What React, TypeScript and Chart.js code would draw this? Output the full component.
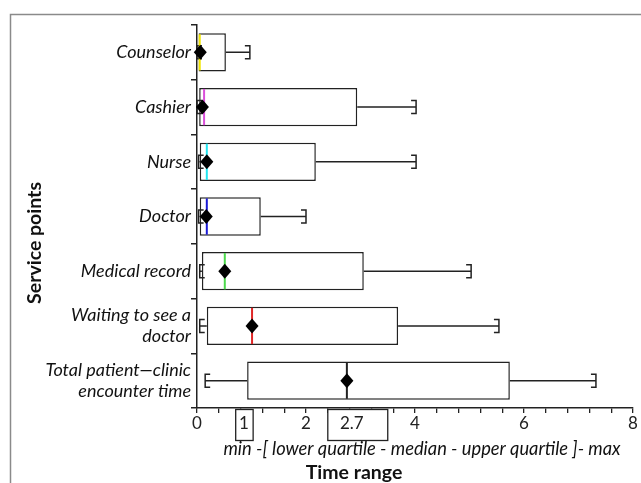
import { useEffect, useRef } from "react";
import { Chart, registerables } from "chart.js";

Chart.register(...registerables);

const categories: (string | string[])[] = [
  "Counselor",
  "Cashier",
  "Nurse",
  "Doctor",
  "Medical record",
  ["Waiting to see a", "doctor"],
  ["Total patient\u2014clinic", "encounter time"],
];
const minValues = [0.0, 0.0, 0.03, 0.03, 0.05, 0.05, 0.15];
const q1Values = [0.03, 0.04, 0.05, 0.05, 0.09, 0.18, 0.92];
const medianValues = [0.05, 0.13, 0.18, 0.18, 0.51, 1.01, 2.75];
const q3Values = [0.53, 2.94, 2.18, 1.17, 3.06, 3.69, 5.74];
const maxValues = [0.97, 4.02, 4.02, 2.0, 5.03, 5.54, 7.32];
const markerValues = [0.06, 0.1, 0.18, 0.17, 0.51, 1.01, 2.75];
const medianColors = ["#f2e600", "#d94fd9", "#22e5f0", "#1a1ad6", "#4cd94c", "#e02626", "#222222"];

const xMin = 0;
const xMax = 8;
const xStep = 0.4;
const xLabelEvery = 2;

const noteLabels = ["1", "2.7"];
const noteTextAt = [0.86, 2.84];
const noteStart = [0.71, 2.4];
const noteEnd = [1.03, 3.5];

const FONT = "Lato, 'Open Sans', sans-serif";

const boxPlugin = {
  id: "boxExtras",
  beforeDraw(chart: any) {
    const ctx = chart.ctx;
    ctx.save();
    ctx.strokeStyle = "#8a8a8a";
    ctx.lineWidth = 1.5;
    ctx.beginPath();
    ctx.moveTo(10.5, chart.height);
    ctx.lineTo(10.5, 14.5);
    ctx.lineTo(chart.width, 14.5);
    ctx.stroke();
    ctx.restore();
  },
  afterDatasetsDraw(chart: any) {
    const ctx = chart.ctx;
    const xs = chart.scales.x;
    const meta = chart.getDatasetMeta(0);
    ctx.save();
    for (let i = 0; i < categories.length; i++) {
      const el = meta.data[i];
      const { y: cy, height: h } = el.getProps(["y", "height"], true);
      const half = h / 2;
      const cap = 6.5;
      const serif = 5;
      const pMin = xs.getPixelForValue(minValues[i]);
      const pQ1 = xs.getPixelForValue(q1Values[i]);
      const pQ3 = xs.getPixelForValue(q3Values[i]);
      const pMax = xs.getPixelForValue(maxValues[i]);
      ctx.strokeStyle = "#222";
      ctx.lineWidth = 1.5;
      ctx.beginPath();
      ctx.moveTo(pQ3, cy);
      ctx.lineTo(pMax, cy);
      ctx.moveTo(pMax - serif, cy - cap);
      ctx.lineTo(pMax, cy - cap);
      ctx.lineTo(pMax, cy + cap);
      ctx.lineTo(pMax - serif, cy + cap);
      if (pQ1 - pMin > 1) {
        ctx.moveTo(pMin, cy);
        ctx.lineTo(pQ1, cy);
        ctx.moveTo(pMin + serif, cy - cap);
        ctx.lineTo(pMin, cy - cap);
        ctx.lineTo(pMin, cy + cap);
        ctx.lineTo(pMin + serif, cy + cap);
      }
      ctx.stroke();
      const pMed = xs.getPixelForValue(medianValues[i]);
      ctx.strokeStyle = medianColors[i];
      ctx.lineWidth = 2;
      ctx.beginPath();
      ctx.moveTo(pMed, cy - half + 1);
      ctx.lineTo(pMed, cy + half - 1);
      ctx.stroke();
      const pm = xs.getPixelForValue(markerValues[i]);
      ctx.fillStyle = "#000";
      ctx.beginPath();
      ctx.moveTo(pm, cy - 7.5);
      ctx.lineTo(pm + 6.5, cy);
      ctx.lineTo(pm, cy + 7.5);
      ctx.lineTo(pm - 6.5, cy);
      ctx.closePath();
      ctx.fill();
    }
    ctx.restore();
  },
  afterDraw(chart: any) {
    const ctx = chart.ctx;
    const xs = chart.scales.x;
    const area = chart.chartArea;
    ctx.save();
    ctx.font = `17px ${FONT}`;
    ctx.textAlign = "center";
    ctx.textBaseline = "middle";
    for (let i = 0; i < noteLabels.length; i++) {
      const a = xs.getPixelForValue(noteStart[i]);
      const b = xs.getPixelForValue(noteEnd[i]);
      ctx.fillStyle = "#fff";
      ctx.fillRect(a, area.bottom + 1.5, b - a, 31);
      ctx.strokeStyle = "#222";
      ctx.lineWidth = 1.3;
      ctx.strokeRect(a, area.bottom + 1.5, b - a, 31);
      ctx.fillStyle = "#222";
      ctx.fillText(noteLabels[i], xs.getPixelForValue(noteTextAt[i]), area.bottom + 16);
    }
    ctx.font = `italic 18.3px ${FONT}`;
    ctx.fillStyle = "#111";
    ctx.fillText("min -[ lower quartile - median - upper quartile ]- max", 422, 449);
    ctx.font = `bold 19.5px ${FONT}`;
    ctx.fillText("Time range", 354, 473);
    ctx.translate(35, 243);
    ctx.rotate(-Math.PI / 2);
    ctx.fillText("Service points", 0, 0);
    ctx.restore();
  },
};

export default function App() {
  const ref = useRef<HTMLCanvasElement>(null);
  useEffect(() => {
    if (!ref.current) return;
    const chart = new Chart(ref.current, {
      type: "bar",
      data: {
        labels: categories as any,
        datasets: [
          {
            data: categories.map((_, i) => [q1Values[i], q3Values[i]]) as any,
            backgroundColor: "#ffffff",
            borderColor: "#222",
            borderWidth: 1.5,
            borderSkipped: false,
            barPercentage: 0.7,
            categoryPercentage: 1,
          },
        ],
      },
      options: {
        indexAxis: "y",
        animation: false,
        responsive: false,
        devicePixelRatio: 1,
        layout: { padding: { top: 25, right: 8, left: 0, bottom: 0 } },
        plugins: { legend: { display: false }, tooltip: { enabled: false } },
        scales: {
          x: {
            type: "linear",
            min: xMin,
            max: xMax,
            afterFit: (s: any) => {
              s.height = 75;
            },
            ticks: {
              stepSize: xStep,
              autoSkip: false,
              maxRotation: 0,
              padding: 0,
              color: "#222",
              font: { family: FONT, size: 17 },
              callback: (v: any) => {
                const r = v / xLabelEvery;
                return Math.abs(r - Math.round(r)) < 1e-6 ? String(Math.round(v)) : "";
              },
            },
            grid: { drawOnChartArea: false, drawTicks: true, tickLength: 5, color: "#222", lineWidth: 1.3 },
            border: { display: true, color: "#222", width: 1.5 },
          },
          y: {
            type: "category",
            afterFit: (s: any) => {
              s.width = 197;
            },
            ticks: {
              padding: 0,
              color: "#111",
              font: { family: FONT, size: 18, style: "italic", lineHeight: 1.17 },
            },
            grid: { drawOnChartArea: false, drawTicks: true, tickLength: 6, offset: true, color: "#222", lineWidth: 1.5 },
            border: { display: true, color: "#222", width: 1.5 },
          },
        },
      },
      plugins: [boxPlugin],
    });
    return () => chart.destroy();
  }, []);
  return (
    <div style={{ position: "fixed", left: 0, top: 0, width: 641, height: 483, background: "#fff" }}>
      <canvas ref={ref} width={641} height={483} style={{ width: 641, height: 483, display: "block" }} />
    </div>
  );
}
